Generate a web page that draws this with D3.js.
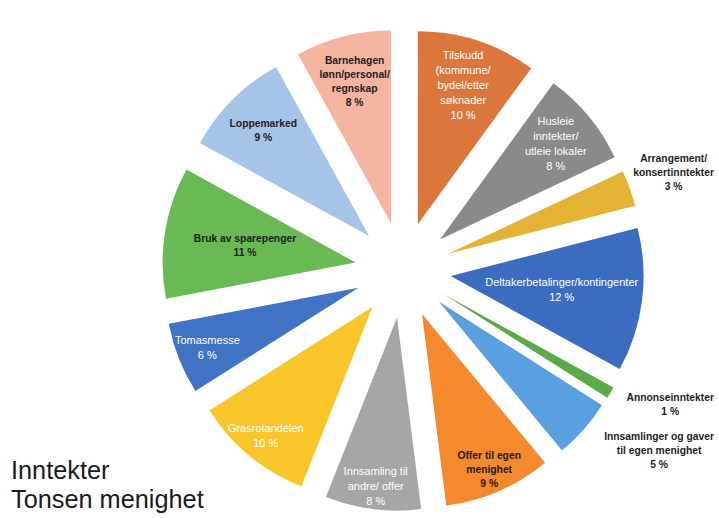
<!DOCTYPE html>
<html>
<head>
<meta charset="utf-8">
<script src="https://cdn.jsdelivr.net/npm/d3@7"></script>
<style>
  html, body { margin: 0; padding: 0; background: #fff; }
  svg { display: block; }
</style>
</head>
<body>
<div id="chart"></div>
<script>
// --- Data (clockwise from 12 o'clock) ---
const categories = [
    "Tilskudd|(kommune/|bydel/etter|søknader",
    "Husleie|inntekter/|utleie lokaler",
    "Arrangement/|konsertinntekter",
    "Deltakerbetalinger/kontingenter",
    "Annonseinntekter",
    "Innsamlinger og gaver|til egen menighet",
    "Offer til egen|menighet",
    "Innsamling til|andre/ offer",
    "Grasrotandelen",
    "Tomasmesse",
    "Bruk av sparepenger",
    "Loppemarked",
    "Barnehagen|lønn/personal/|regnskap"
];
const percents = [10, 8, 3, 12, 1, 5, 9, 8, 10, 6, 11, 9, 8];
const colors = [
    "#db773c", "#8a8a8a", "#e4b334", "#3a6cbf", "#5aaa46", "#5aa0e0",
    "#f5892f", "#a6a6a6", "#f8c629", "#4173c3", "#69b955", "#a6c4e8", "#f4b49f"
];
const darkText = [false, false, true, false, true, true, true, false, false, false, true, true, true];
const titleLines = ["Inntekter", "Tonsen menighet"];

// --- Sizes ---
const W = 719, H = 518;
const cx = 403, cy = 270;
const radius = 193;     // slice radius
const explode = 48;     // offset of each slice from the centre

const svg = d3.select("#chart")
    .append("svg")
    .attr("width", W)
    .attr("height", H);

svg.append("defs").append("filter")
    .attr("id", "soft")
    .attr("x", "-5%").attr("y", "-5%").attr("width", "110%").attr("height", "110%")
    .append("feGaussianBlur")
    .attr("stdDeviation", 0.7);

const data = percents.map((v, i) => ({
    label: categories[i], value: v, color: colors[i], dark: darkText[i]
}));

const pie = d3.pie().value(d => d.value).sort(null);
const arc = d3.arc().innerRadius(0).outerRadius(radius);
const arcs = pie(data);

const midAngle = d => (d.startAngle + d.endAngle) / 2;

const g = svg.append("g").attr("transform", `translate(${cx},${cy})`);

// --- Slices, each pushed out along its middle angle ---
g.selectAll("path.slice")
    .data(arcs)
    .join("path")
    .attr("class", "slice")
    .attr("d", arc)
    .attr("fill", d => d.data.color)
    .attr("filter", "url(#soft)")
    .attr("transform", d => {
        const a = midAngle(d);
        return `translate(${explode * Math.sin(a)},${-explode * Math.cos(a)})`;
    });

// --- Labels ---
const outside = d => d.data.value <= 5;

const labels = svg.selectAll("text.lbl")
    .data(arcs)
    .join("text")
    .attr("class", "lbl")
    .attr("text-anchor", "middle")
    .style("font-family", "'Liberation Sans', Arial, sans-serif")
    .style("font-size", d => d.data.dark ? "10.3px" : "11px")
    .style("font-weight", d => d.data.dark ? "bold" : "normal")
    .attr("fill", d => d.data.dark ? "#1e1e1e" : "#ffffff");

labels.each(function(d) {
    const sel = d3.select(this);
    const lines = d.data.label.split("|").concat([d.data.value + " %"]);
    const lineH = d.data.dark ? 14 : 15;
    const fs = d.data.dark ? 10.3 : 11;
    const a = midAngle(d);

    const spans = sel.selectAll("tspan")
        .data(lines)
        .join("tspan")
        .text(l => l);
    const maxW = d3.max(spans.nodes(), n => n.getComputedTextLength());

    let x, y;
    if (outside(d)) {
        // small slices: labels pushed against the right edge
        x = W - 5 - maxW / 2;
        y = cy - 300 * Math.cos(a) + (Math.cos(a) < 0 ? -18 : 4);
    } else {
        // long one-line labels sit nearer the centre; lower labels a bit further out
        const r = maxW > 95 ? 160 : 206 - 12 * Math.cos(a);
        x = cx + r * Math.sin(a);
        y = cy - r * Math.cos(a);
    }
    const y0 = y - (lines.length - 1) * lineH / 2 + fs * 0.35;
    spans.attr("x", x).attr("y", (l, i) => y0 + i * lineH);
});

// --- Title, bottom left ---
svg.selectAll("text.title")
    .data(titleLines)
    .join("text")
    .attr("class", "title")
    .attr("x", 11)
    .attr("y", (d, i) => 479 + i * 29)
    .style("font-family", "'Liberation Sans', Arial, sans-serif")
    .style("font-size", "25.3px")
    .attr("fill", "#1a1a1a")
    .text(d => d);
</script>
</body>
</html>
